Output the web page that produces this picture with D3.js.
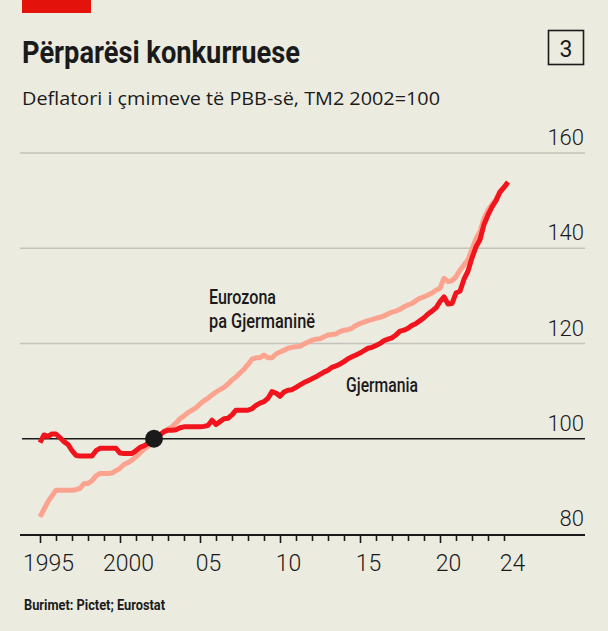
<!DOCTYPE html>
<html>
<head>
<meta charset="utf-8">
<script src="https://cdn.jsdelivr.net/npm/d3@7"></script>
<style>
  html, body { margin: 0; padding: 0; background: #ecebe0; }
  svg { display: block; }
</style>
</head>
<body>
<svg id="chart" width="608" height="631"></svg>
<script>
// ---- data (quarterly, 1995Q1 .. 2024Q2) ----
const startYear = 1995;
const germany = [
  99.2, 100.8, 100.5, 101.0,   // 1995
  101.0, 100.2, 99.4, 98.8,    // 1996
  97.5, 96.5, 96.4, 96.4,      // 1997
  96.4, 96.4, 97.5, 98.0,      // 1998
  98.0, 98.0, 98.0, 98.0,      // 1999
  97.0, 96.9, 96.9, 96.9,      // 2000
  97.5, 98.2, 98.5, 99.0,      // 2001
  99.6, 100.0, 100.8, 101.5,   // 2002
  101.8, 101.8, 101.9, 102.3,  // 2003
  102.5, 102.5, 102.5, 102.5,  // 2004
  102.5, 102.6, 102.8, 103.9,  // 2005
  103.0, 103.6, 104.2, 104.3,  // 2006
  105.0, 106.0, 106.0, 106.0,  // 2007
  106.0, 106.3, 107.0, 107.5,  // 2008
  107.8, 108.5, 109.9, 109.6,  // 2009
  108.9, 109.8, 110.2, 110.3,  // 2010
  110.8, 111.3, 111.8, 112.2,  // 2011
  112.6, 113.0, 113.5, 114.0,  // 2012
  114.4, 115.0, 115.3, 115.7,  // 2013
  116.2, 116.8, 117.2, 117.6,  // 2014
  118.0, 118.5, 119.0, 119.2,  // 2015
  119.6, 120.0, 120.6, 120.9,  // 2016
  121.2, 121.8, 122.6, 122.8,  // 2017
  123.2, 123.8, 124.2, 124.8,  // 2018
  125.4, 126.2, 126.8, 127.5,  // 2019
  128.8, 129.8, 128.3, 128.4,  // 2020
  130.6, 131.0, 133.5, 135.2,  // 2021
  138.0, 140.3, 141.8, 145.0,  // 2022
  147.0, 148.7, 150.0, 151.8,  // 2023
  152.8, 153.9                 // 2024
];
const eurozoneExGermany = [
  83.6, 85.2, 86.8, 88.0,      // 1995
  89.2, 89.2, 89.2, 89.2,      // 1996
  89.2, 89.3, 89.6, 90.6,      // 1997
  90.6, 91.2, 92.2, 92.7,      // 1998
  92.7, 92.7, 92.8, 93.3,      // 1999
  93.8, 94.6, 95.0, 95.5,      // 2000
  96.2, 97.0, 97.8, 98.4,      // 2001
  99.2, 100.0, 100.8, 101.5,   // 2002
  102.0, 102.5, 103.3, 104.2,  // 2003
  104.8, 105.5, 106.0, 106.5,  // 2004
  107.3, 108.0, 108.5, 109.2,  // 2005
  109.8, 110.3, 110.8, 111.5,  // 2006
  112.3, 113.0, 113.8, 114.6,  // 2007
  115.6, 116.7, 117.0, 117.0,  // 2008
  117.6, 117.0, 117.0, 117.8,  // 2009
  118.2, 118.6, 119.0, 119.2,  // 2010
  119.3, 119.4, 119.9, 120.3,  // 2011
  120.7, 120.9, 121.0, 121.4,  // 2012
  121.8, 121.9, 122.0, 122.5,  // 2013
  122.8, 122.9, 123.2, 123.8,  // 2014
  124.2, 124.5, 124.8, 125.0,  // 2015
  125.3, 125.5, 125.8, 126.2,  // 2016
  126.6, 126.8, 127.2, 127.7,  // 2017
  128.1, 128.4, 129.0, 129.5,  // 2018
  129.8, 130.2, 130.6, 131.2,  // 2019
  131.6, 133.7, 133.0, 133.2,  // 2020
  134.0, 135.4, 136.5, 137.6,  // 2021
  139.8, 142.0, 143.5, 146.3,  // 2022
  148.0, 149.2, 150.3, 152.0,  // 2023
  152.8, 153.6                 // 2024
];
const yTicks = [80, 100, 120, 140, 160];
const xTickYears = d3.range(1995, 2025);
const xLabelYears = [1995, 2000, 2005, 2010, 2015, 2020, 2024];
const xLabelText = ["1995", "2000", "05", "10", "15", "20", "24"];
const baseIndex = 100;
const baseDate = 2002.25;

const title = "Përparësi konkurruese";
const subtitle = "Deflatori i çmimeve të PBB-së, TM2 2002=100";
const chartNumber = "3";
const source = "Burimet: Pictet; Eurostat";
const labelEuro = ["Eurozona", "pa Gjermaninë"];
const labelGer = "Gjermania";

// ---- drawing ----
const svg = d3.select("#chart");
const condensed = "'Roboto', 'Liberation Sans', sans-serif";
const light = "Roboto, 'Open Sans', sans-serif";
const ink = "#1a1a1a";

svg.append("rect").attr("width", 608).attr("height", 631).attr("fill", "#ecebe0");
svg.append("rect").attr("x", 22).attr("y", 0).attr("width", 69).attr("height", 13).attr("fill", "#e3120b");

svg.append("text").attr("x", 22).attr("y", 63)
  .attr("font-family", condensed).attr("font-weight", 700).attr("font-size", 31)
  .attr("textLength", 278).attr("lengthAdjust", "spacingAndGlyphs")
  .attr("fill", ink).text(title);

svg.append("rect").attr("x", 548.5).attr("y", 30.5).attr("width", 35).attr("height", 34)
  .attr("fill", "none").attr("stroke", ink).attr("stroke-width", 1.6);
svg.append("text").attr("x", 566).attr("y", 56.5).attr("text-anchor", "middle")
  .attr("font-family", light).attr("font-weight", 400).attr("font-size", 23)
  .attr("fill", ink).text(chartNumber);

svg.append("text").attr("x", 22).attr("y", 105)
  .attr("font-family", "'Open Sans', sans-serif").attr("font-size", 19)
  .attr("textLength", 418).attr("lengthAdjust", "spacingAndGlyphs")
  .attr("fill", ink).text(subtitle);

const x = d3.scaleLinear().domain([1995, 2025]).range([40, 520]);
const y = d3.scaleLinear().domain([80, 160]).range([534, 153]);

// gridlines
svg.append("g").selectAll("line").data(yTicks.filter(v => v > 100)).join("line")
  .attr("x1", 20).attr("x2", 585)
  .attr("y1", d => y(d)).attr("y2", d => y(d))
  .attr("stroke", "#c4c2ba").attr("stroke-width", 1.6);

// y labels
svg.append("g").selectAll("text").data(yTicks).join("text")
  .attr("x", 584).attr("y", d => y(d) - 8)
  .attr("text-anchor", "end")
  .attr("font-family", light).attr("font-weight", 300).attr("font-size", 22)
  .attr("fill", ink).text(d => d);

// 100 line
svg.append("line").attr("x1", 22).attr("x2", 585)
  .attr("y1", y(baseIndex)).attr("y2", y(baseIndex))
  .attr("stroke", ink).attr("stroke-width", 1.6);

// x axis
const axisG = svg.append("g").attr("transform", "translate(0,535)");
axisG.append("line").attr("x1", 20).attr("x2", 585).attr("y1", 0).attr("y2", 0)
  .attr("stroke", ink).attr("stroke-width", 2);
const ticksAxis = d3.axisBottom(x).tickValues(xTickYears).tickFormat("").tickSizeOuter(0).tickSize(6);
const tg = axisG.append("g").call(ticksAxis);
tg.select(".domain").remove();
tg.selectAll(".tick line")
  .attr("stroke", ink).attr("stroke-width", 1.6)
  .attr("y2", d => (d % 5 === 0 ? 8 : 6));

const labelAxis = d3.axisBottom(x).tickValues(xLabelYears.map(v => v + 0.5))
  .tickFormat((d, i) => xLabelText[i]).tickSize(0).tickPadding(20);
const lg = axisG.append("g").call(labelAxis);
lg.select(".domain").remove();
lg.selectAll("text").attr("font-family", light).attr("font-weight", 300)
  .attr("font-size", 23).attr("fill", ink);

// lines
const toPts = arr => arr.map((v, i) => ({ t: startYear + i / 4, v }));
const line = d3.line().x(d => x(d.t)).y(d => y(d.v));

svg.append("path").datum(toPts(eurozoneExGermany))
  .attr("d", line).attr("fill", "none")
  .attr("stroke", "#fba38f").attr("stroke-width", 5)
  .attr("stroke-linejoin", "round").attr("stroke-linecap", "butt");

svg.append("path").datum(toPts(germany))
  .attr("d", line).attr("fill", "none")
  .attr("stroke", "#f2141c").attr("stroke-width", 5)
  .attr("stroke-linejoin", "round").attr("stroke-linecap", "butt");

// base dot
svg.append("circle").attr("cx", x(baseDate) - 2).attr("cy", y(baseIndex)).attr("r", 9)
  .attr("fill", ink);

// annotations
const euroLens = [67, 106];
const ann = svg.append("text").attr("font-family", condensed).attr("font-weight", 500)
  .attr("font-size", 19.5).attr("fill", ink);
ann.selectAll("tspan").data(labelEuro).join("tspan")
  .attr("x", 209).attr("y", (d, i) => 303.5 + i * 24)
  .attr("textLength", (d, i) => euroLens[i]).attr("lengthAdjust", "spacingAndGlyphs")
  .text(d => d);
svg.append("text").attr("x", 346).attr("y", 392)
  .attr("font-family", condensed).attr("font-weight", 500).attr("font-size", 19.5)
  .attr("textLength", 72).attr("lengthAdjust", "spacingAndGlyphs")
  .attr("fill", ink).text(labelGer);

svg.append("text").attr("x", 24).attr("y", 610)
  .attr("font-family", condensed).attr("font-weight", 700).attr("font-size", 14)
  .attr("textLength", 141).attr("lengthAdjust", "spacingAndGlyphs")
  .attr("fill", ink).text(source);
</script>
</body>
</html>
